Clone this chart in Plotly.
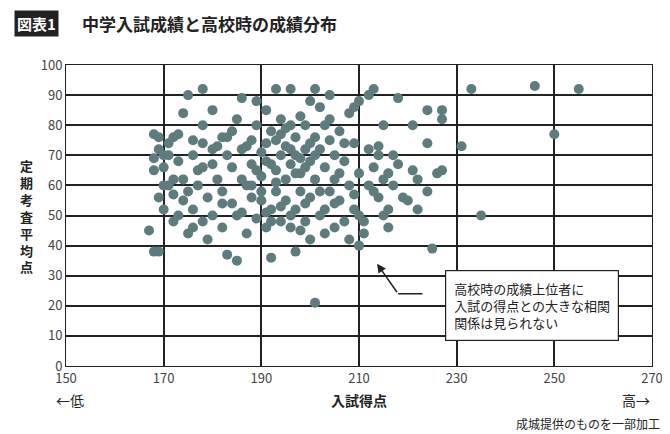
import plotly.graph_objects as go

PTS = [
    (167,45),(168,38),(169,38),(168,77),(168,69),(168,65),(169,76),(169,72),(170,60),(169,56),
    (170,70),(170,66),(171,74),(171,60),(172,48),(172,76),(173,77),(173,68),(172,57),(172,62),
    (173,50),(174,84),(175,90),(174,55),(175,44),(175,58),(176,52),(176,46),(176,70),(177,65),
    (177,60),(178,92),(178,80),(178,74),(178,48),(179,56),(179,42),(180,67),(180,50),(180,85),
    (181,73),(181,62),(182,46),(182,58),(182,76),(183,70),(183,37),(184,66),(184,54),(184,78),
    (185,82),(185,50),(185,35),(186,89),(186,72),(186,62),(187,44),(187,60),(188,56),(188,67),
    (188,75),(189,49),(189,80),(189,88),(190,71),(190,63),(190,55),(191,85),(191,46),(191,68),
    (192,78),(192,52),(192,36),(193,92),(193,75),(193,65),(193,58),(194,82),(194,48),(194,70),
    (195,73),(195,62),(195,55),(196,92),(196,80),(196,67),(196,46),(197,76),(197,70),(197,52),
    (197,38),(198,83),(198,64),(198,58),(199,72),(199,48),(199,80),(200,88),(200,68),(200,56),
    (200,42),(201,92),(201,76),(201,21),(201,62),(202,86),(202,50),(202,72),(203,66),(203,44),
    (203,80),(204,90),(204,58),(204,75),(205,70),(205,46),(205,62),(206,55),(206,78),(207,68),
    (207,48),(208,60),(208,84),(208,42),(209,86),(209,74),(209,52),(210,40),(210,64),(210,88),
    (211,48),(211,44),(212,90),(212,72),(212,60),(213,92),(213,58),(213,66),(214,56),(214,70),
    (215,50),(215,80),(216,64),(216,46),(217,70),(218,67),(218,89),(219,56),(220,55),(221,80),
    (221,65),(222,52),(222,62),(224,85),(224,74),(224,58),(225,39),(226,64),(227,85),(227,82),
    (227,65),(231,73),(233,92),(235,50),(246,93),(250,77),(255,92),
    (191,74),(192,67),(193,61),(194,77),(195,79),(196,72),(197,64),(198,69),(199,66),(190,58),
    (191,51),(192,48),(194,53),(196,50),(198,45),(199,54),(176,75),(180,72),(183,76),(187,73),
    (171,70),(170,52),(174,62),(178,66),(182,54),(186,51),(188,60),(189,65),(200,74),(201,70),
    (202,58),(203,52),(206,64),(207,74),(204,82),(205,54),(209,57),(210,50),(214,73),(215,62),
    (216,52),(217,60),
]
entrance = [p[0] for p in PTS]
school_avg = [p[1] for p in PTS]
Y_LABEL = "定期考査平均点"

FONT = "Noto Sans CJK JP"
fig = go.Figure(go.Scatter(
    x=entrance, y=school_avg, mode="markers",
    marker=dict(color="#5e7b7e", size=10, line=dict(width=0)),
    showlegend=False,
))

fig.update_xaxes(range=[150, 270], tick0=150, dtick=20, showgrid=True, gridcolor="#222", gridwidth=1.5,
                 showline=True, linecolor="#222", mirror=True, zeroline=False, ticks="",
                 tickfont=dict(size=13, color="#444"))
fig.update_yaxes(range=[0, 100], dtick=10, showgrid=True, gridcolor="#222", gridwidth=1.5,
                 showline=True, linecolor="#222", mirror=True, zeroline=False, ticks="",
                 tickfont=dict(size=13, color="#444"))

# arrow from the note box to the point
fig.add_shape(type="line", x0=223, y0=24, x1=218, y1=24, line=dict(color="#222", width=1.5))
fig.add_annotation(x=213.7, y=34, ax=218, ay=24, axref="x", ayref="y", xref="x", yref="y",
                   text="", showarrow=True, arrowhead=2, arrowsize=1.2, arrowwidth=1.5,
                   arrowcolor="#222")
fig.add_annotation(x=245.5, y=20, xref="x", yref="y", showarrow=False, align="left",
                   text="高校時の成績上位者に<br>入試の得点との大きな相関<br>関係は見られない",
                   font=dict(size=13, color="#222", family=FONT),
                   bgcolor="white", bordercolor="#222", borderwidth=1.2, borderpad=8)

# title
fig.add_annotation(x=0, y=1.0, xref="paper", yref="paper", xanchor="left", yanchor="middle",
                   xshift=-52, yshift=42, showarrow=False, text="<b>図表1</b>",
                   font=dict(size=15, color="white", family=FONT), bgcolor="#222", borderpad=2)
fig.add_annotation(x=0, y=1.0, xref="paper", yref="paper", xanchor="left", yanchor="middle",
                   xshift=14, yshift=42, showarrow=False, text="<b>中学入試成績と高校時の成績分布</b>",
                   font=dict(size=17, color="#222", family=FONT))
# vertical y label
fig.add_annotation(x=0, y=0.5, xref="paper", yref="paper", xshift=-48, showarrow=False,
                   text="<b>" + "<br>".join(Y_LABEL) + "</b>",
                   font=dict(size=13, color="#222", family=FONT))
fig.add_annotation(x=0.5, y=0, xref="paper", yref="paper", yshift=-46, showarrow=False,
                   text="<b>入試得点</b>", font=dict(size=14, color="#222", family=FONT))
fig.add_annotation(x=0, y=0, xref="paper", yref="paper", yshift=-46, xshift=-12, xanchor="left",
                   showarrow=False, text="←低", font=dict(size=14, color="#222", family=FONT))
fig.add_annotation(x=1, y=0, xref="paper", yref="paper", yshift=-46, xanchor="right",
                   showarrow=False, text="高→", font=dict(size=14, color="#222", family=FONT))
fig.add_annotation(x=1, y=0, xref="paper", yref="paper", xanchor="right", yshift=-68, xshift=10,
                   showarrow=False, text="成城提供のものを一部加工",
                   font=dict(size=12, color="#222", family=FONT))

fig.update_layout(width=670, height=434, paper_bgcolor="white", plot_bgcolor="white",
                  margin=dict(l=58, r=26, t=57, b=76), font=dict(family=FONT))
fig.write_html("out.html")
